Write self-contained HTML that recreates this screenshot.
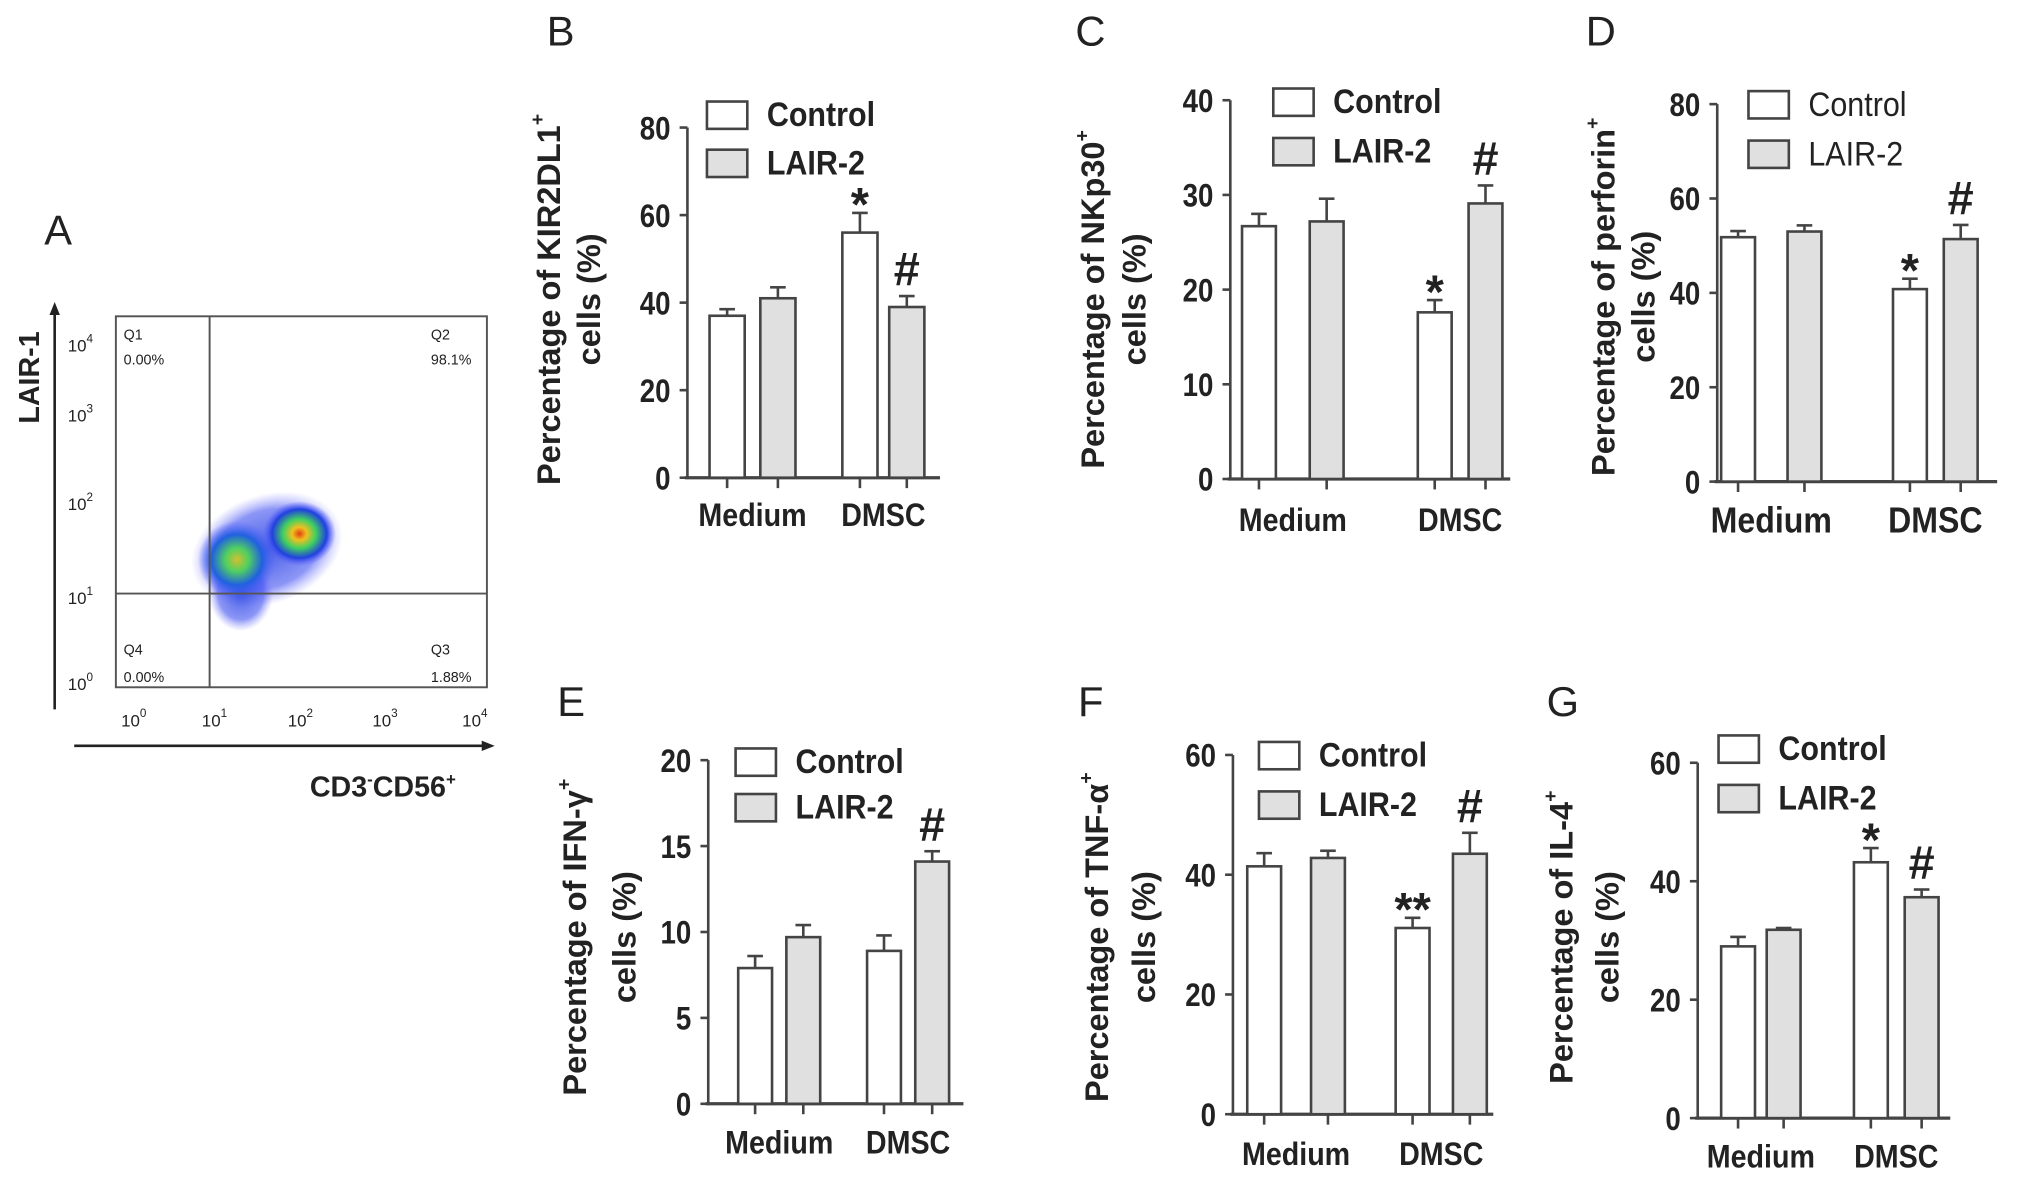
<!DOCTYPE html>
<html><head><meta charset="utf-8"><style>
html,body{margin:0;padding:0;background:#fff;}
svg{display:block;}
text{font-family:"Liberation Sans",Arial,sans-serif;fill:#222;}
.b{font-weight:bold;}
</style></head><body>
<svg id="fig" width="2031" height="1178" viewBox="0 0 1560 905" preserveAspectRatio="none" xmlns="http://www.w3.org/2000/svg">
<defs>
<radialGradient id="g1"><stop offset="0" stop-color="#e04010"/><stop offset="0.2" stop-color="#f0c020"/><stop offset="0.45" stop-color="#40d060"/><stop offset="0.75" stop-color="#2040e0"/><stop offset="1" stop-color="#6060ff" stop-opacity="0"/></radialGradient>
<radialGradient id="g2"><stop offset="0" stop-color="#d0c030"/><stop offset="0.3" stop-color="#50d060"/><stop offset="0.65" stop-color="#2060e0"/><stop offset="1" stop-color="#6060ff" stop-opacity="0"/></radialGradient>
<radialGradient id="g3"><stop offset="0" stop-color="#2040e0" stop-opacity="0.85"/><stop offset="0.7" stop-color="#4050f0" stop-opacity="0.6"/><stop offset="1" stop-color="#8080ff" stop-opacity="0"/></radialGradient>
</defs>
<g>
<text x="34" y="188" font-size="32">A</text>
<line x1="42" y1="545" x2="42" y2="240" stroke="#222" stroke-width="2"/>
<polygon points="42,232 38,242 46,242" fill="#222"/>
<line x1="57" y1="573" x2="372" y2="573" stroke="#222" stroke-width="2"/>
<polygon points="380,573 370,569 370,577" fill="#222"/>
<text class="b" transform="translate(30,290) rotate(-90)" font-size="22" text-anchor="middle">LAIR-1</text>
<text class="b" x="238" y="612" font-size="22">CD3<tspan font-size="13" dy="-9">-</tspan><tspan dy="9">CD56</tspan><tspan font-size="13" dy="-9">+</tspan></text>
<rect x="89" y="243" width="285" height="285" fill="none" stroke="#555" stroke-width="1.5"/>
<ellipse cx="205" cy="422" rx="60" ry="42" fill="url(#g3)" transform="rotate(-20 205 422)"/>
<ellipse cx="185" cy="455" rx="25" ry="30" fill="url(#g3)"/>
<ellipse cx="182" cy="430" rx="30" ry="30" fill="url(#g2)"/>
<ellipse cx="230" cy="410" rx="28" ry="25" fill="url(#g1)"/>
<line x1="161" y1="243" x2="161" y2="528" stroke="#555" stroke-width="1.5"/>
<line x1="89" y1="456" x2="374" y2="456" stroke="#555" stroke-width="1.5"/>
<g font-size="11" fill="#555">
<text x="95" y="261">Q1</text><text x="95" y="280">0.00%</text>
<text x="331" y="261">Q2</text><text x="331" y="280">98.1%</text>
<text x="95" y="503">Q4</text><text x="95" y="524">0.00%</text>
<text x="331" y="503">Q3</text><text x="331" y="524">1.88%</text>
</g>
<g font-size="13" fill="#444">
<text x="52" y="270">10<tspan font-size="9" dy="-7">4</tspan></text>
<text x="52" y="324">10<tspan font-size="9" dy="-7">3</tspan></text>
<text x="52" y="392">10<tspan font-size="9" dy="-7">2</tspan></text>
<text x="52" y="464">10<tspan font-size="9" dy="-7">1</tspan></text>
<text x="52" y="530">10<tspan font-size="9" dy="-7">0</tspan></text>
<text x="93" y="558">10<tspan font-size="9" dy="-7">0</tspan></text>
<text x="155" y="558">10<tspan font-size="9" dy="-7">1</tspan></text>
<text x="221" y="558">10<tspan font-size="9" dy="-7">2</tspan></text>
<text x="286" y="558">10<tspan font-size="9" dy="-7">3</tspan></text>
<text x="355" y="558">10<tspan font-size="9" dy="-7">4</tspan></text>
</g>
</g>
<g id="charts"></g>
</svg>
<script>
// Panel data
const categories = ["Medium", "DMSC"];
const seriesNames = ["Control", "LAIR-2"];
const bControl = [37, 56];   const bLair = [41, 39];   const bErr = [[1.5, 4.5], [2.5, 2.5]]; const bTicks = [0, 20, 40, 60, 80];
const cControl = [26.7, 17.6]; const cLair = [27.2, 29.1]; const cErr = [[1.3, 1.3], [2.4, 1.9]]; const cTicks = [0, 10, 20, 30, 40];
const dControl = [51.8, 40.8]; const dLair = [53, 51.4]; const dErr = [[1.3, 2.2], [1.3, 3]]; const dTicks = [0, 20, 40, 60, 80];
const eControl = [7.9, 8.9];  const eLair = [9.7, 14.1]; const eErr = [[0.7, 0.9], [0.7, 0.6]]; const eTicks = [0, 5, 10, 15, 20];
const fControl = [41.4, 31.1]; const fLair = [42.8, 43.5]; const fErr = [[2.2, 1.7], [1.2, 3.5]]; const fTicks = [0, 20, 40, 60];
const gControl = [29, 43.2];  const gLair = [31.8, 37.3]; const gErr = [[1.6, 2.4], [0.3, 1.3]]; const gTicks = [0, 20, 40, 60];
// marks ordered: [Medium-Control, Medium-LAIR2, DMSC-Control, DMSC-LAIR2]
const bMarks = ["", "", "*", "#"]; const cMarks = ["", "", "*", "#"]; const dMarks = ["", "", "*", "#"];
const eMarks = ["", "", "", "#"]; const fMarks = ["", "", "**", "#"]; const gMarks = ["", "", "*", "#"];

const NS = "http://www.w3.org/2000/svg";
const root = document.getElementById("charts");
function mk(tag, attrs, parent) { const e = document.createElementNS(NS, tag); for (const k in attrs) e.setAttribute(k, attrs[k]); (parent || root).appendChild(e); return e; }

const panels = [
 {id:"b", letter:"B", lx:420, ly:35, ax:528, y0:367, yTop:98, xEnd:722, bx:[[545,647],[584,683]], bw:27, legX:543, legY:[78,115], t1:"Percentage of KIR2DL1", t2:"cells (%)", tx:[430,461], ty:230, labY:404, ctrl:bControl, lair:bLair, err:bErr, ticks:bTicks, marks:bMarks},
 {id:"c", letter:"C", lx:826, ly:35, ax:945, y0:368, yTop:77, xEnd:1160, bx:[[954,1089],[1006,1128]], bw:26, legX:978, legY:[68,106], t1:"Percentage of NKp30", t2:"cells (%)", tx:[848,880], ty:230, labY:408, ctrl:cControl, lair:cLair, err:cErr, ticks:cTicks, marks:cMarks},
 {id:"d", letter:"D", lx:1218, ly:35, ax:1319, y0:370, yTop:80, xEnd:1534, bx:[[1322,1454],[1373,1493]], bw:26, legX:1343, legY:[70,108], t1:"Percentage of perforin", t2:"cells (%)", tx:[1240,1271], ty:228, labY:409, big:true, ctrl:dControl, lair:dLair, err:dErr, ticks:dTicks, marks:dMarks},
 {id:"e", letter:"E", lx:428, ly:550, ax:544, y0:848, yTop:584, xEnd:740, bx:[[567,666],[604,703]], bw:26, legX:565, legY:[575,610], t1:"Percentage of IFN-γ", t2:"cells (%)", tx:[450,488], ty:720, labY:886, ctrl:eControl, lair:eLair, err:eErr, ticks:eTicks, marks:eMarks},
 {id:"f", letter:"F", lx:828, ly:550, ax:947, y0:856, yTop:580, xEnd:1147, bx:[[958,1072],[1007,1116]], bw:26, legX:967, legY:[570,608], t1:"Percentage of TNF-α", t2:"cells (%)", tx:[851,887], ty:720, labY:895, ctrl:fControl, lair:fLair, err:fErr, ticks:fTicks, marks:fMarks},
 {id:"g", letter:"G", lx:1188, ly:550, ax:1304, y0:859, yTop:586, xEnd:1498, bx:[[1322,1424],[1357,1463]], bw:26, legX:1320, legY:[565,603], t1:"Percentage of IL-4", t2:"cells (%)", tx:[1208,1243], ty:720, labY:897, ctrl:gControl, lair:gLair, err:gErr, ticks:gTicks, marks:gMarks}
];

panels.forEach(p => {
  const g = mk("g", {});
  
  
  const ymax = p.ticks[p.ticks.length - 1];
  const ys = v => p.y0 - (v / ymax) * (p.y0 - p.yTop);
  const lt = mk("text", {x:p.lx, y:p.ly, "font-size":32}, g); lt.textContent = p.letter;
  
  
  const ya = mk("line", {x1:p.ax, y1:p.yTop, x2:p.ax, y2:p.y0, stroke:"#444", "stroke-width":2}, g);
  
  
  const xa = mk("line", {x1:p.ax - 2, y1:p.y0, x2:p.xEnd, y2:p.y0, stroke:"#444", "stroke-width":2.5}, g);
  
  
  p.ticks.forEach(t => {
    const y = ys(t);
    mk("line", {x1:p.ax - 6, y1:y, x2:p.ax, y2:y, stroke:"#444", "stroke-width":2}, g);
    const tl = mk("text", {x:p.ax - 13, y:y + 9, "font-size":25, "text-anchor":"end", class:"b", transform:`translate(${p.ax-13},${y}) scale(0.85,1) translate(${-(p.ax-13)},${-y})`}, g);
    tl.textContent = t;
    
    
  });
  const series = [p.ctrl, p.lair];
  series.forEach((vals, s) => {
    vals.forEach((v, i) => {
      const x = p.bx[s][i];
      const top = ys(v), eTop = ys(v + p.err[s][i]);
      const cx = x + p.bw / 2;
      mk("line", {x1:cx, y1:top, x2:cx, y2:eTop, stroke:"#444", "stroke-width":2}, g);
      const ec = mk("line", {x1:cx - 6, y1:eTop, x2:cx + 6, y2:eTop, stroke:"#444", "stroke-width":2}, g);
      
      
      const r = mk("rect", {x:x, y:top, width:p.bw, height:p.y0 - top, fill: s ? "#e0e0e0" : "#fff", stroke:"#444", "stroke-width":2}, g);
      
      
      mk("line", {x1:cx, y1:p.y0, x2:cx, y2:p.y0 + 8, stroke:"#444", "stroke-width":2}, g);
      const m = p.marks[i * 2 + s];
      if (m) {
        const st = mk("text", {x:cx, y:eTop - 8 + (m === "#" ? 0 : 14), "font-size": m === "#" ? 36 : 36, "text-anchor":"middle", class:"b"}, g);
        st.textContent = m;
        
        
      }
    });
  });
  categories.forEach((c, i) => {
    const cx = (p.bx[0][i] + p.bx[1][i] + p.bw) / 2;
    const fs = p.big ? 28 : 25;
    const cl = mk("text", {x:cx, y:p.labY, "font-size":fs, "text-anchor":"middle", class:"b", transform:`translate(${cx},0) scale(0.88,1) translate(${-cx},0)`}, g);
    cl.textContent = c;
    
    
  });
  seriesNames.forEach((n, s) => {
    const lr = mk("rect", {x:p.legX, y:p.legY[s], width:31, height:21, fill: s ? "#e0e0e0" : "#fff", stroke:"#444", "stroke-width":2}, g);
    
    
    const tx = p.legX + 46;
    const ltx = mk("text", {x:tx, y:p.legY[s] + 19, "font-size":26, class: p.big ? "" : "b", transform:`translate(${tx},0) scale(0.9,1) translate(${-tx},0)`}, g);
    ltx.textContent = n;
    
    
  });
  const t1 = mk("text", {transform:`translate(${p.tx[0]},${p.ty}) rotate(-90)`, "font-size":25, "text-anchor":"middle", class:"b"}, g);
  t1.innerHTML = p.t1 + '<tspan font-size="15" dy="-12">+</tspan>';
  
  
  const t2 = mk("text", {transform:`translate(${p.tx[1]},${p.ty}) rotate(-90)`, "font-size":25, "text-anchor":"middle", class:"b"}, g);
  t2.textContent = p.t2;
  
  
});
</script>
</body></html>
